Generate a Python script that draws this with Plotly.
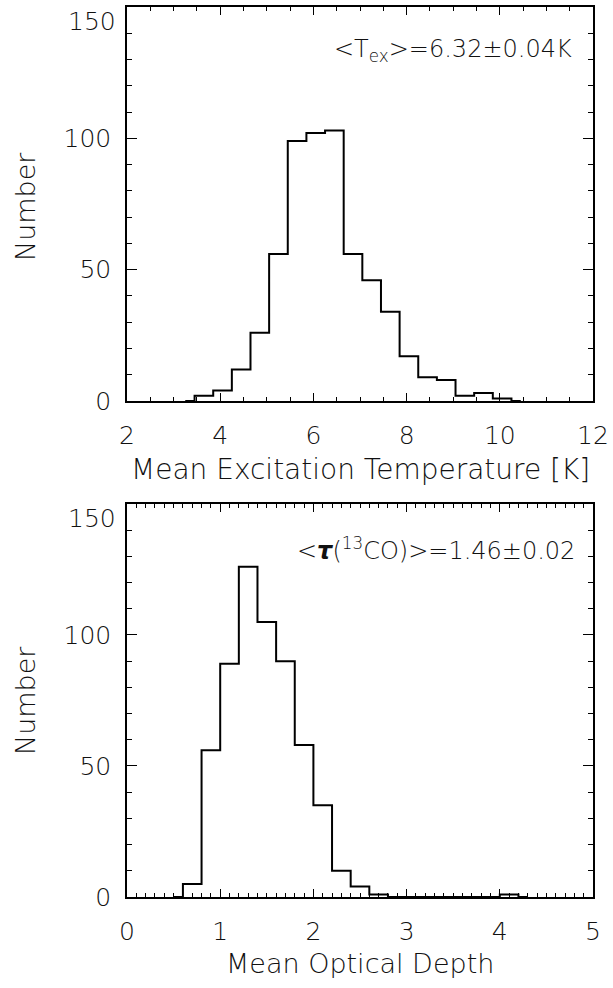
import numpy as np
import plotly.graph_objects as go

# top panel: mean excitation temperature histogram (bin centres, counts)
tex_centers = [3.25, 3.65, 4.05, 4.45, 4.85, 5.25, 5.65, 6.05, 6.45, 6.85,
               7.25, 7.65, 8.05, 8.45, 8.85, 9.25, 9.65, 10.05, 10.45]
tex_counts = [0, 2, 4, 12, 26, 56, 99, 102, 103, 56,
              46, 34, 17, 9, 8, 2, 3, 1, 0]

# bottom panel: mean optical depth histogram
tau_centers = [0.5, 0.7, 0.9, 1.1, 1.3, 1.5, 1.7, 1.9, 2.1, 2.3, 2.5, 2.7,
               2.9, 3.1, 3.3, 3.5, 3.7, 3.9, 4.1, 4.3]
tau_counts = [0, 5, 56, 89, 126, 105, 90, 58, 35, 10, 4, 1,
              0, 0, 0, 0, 0, 0, 1, 0]

tex_label = "&lt;T<sub>ex</sub>&gt;=6.32±0.04K"
tau_label = "&lt;<i><b>τ</b></i>(<sup>13</sup>CO)&gt;=1.46±0.02"

FONT = "DejaVu Sans ExtraLight, DejaVu Sans"
TXT = "#111111"


def step_path(centers, counts):
    # IDL psym=10 style: steps change half way between bin centres
    c = np.asarray(centers, dtype=float)
    n = np.asarray(counts, dtype=float)
    mids = (c[:-1] + c[1:]) / 2
    x = np.concatenate([[c[0]], mids, [c[-1]]])
    y = np.concatenate([n, [n[-1]]])
    return x, y


fig = go.Figure()

x1, y1 = step_path(tex_centers, tex_counts)
fig.add_trace(go.Scatter(x=x1, y=y1, mode="lines", line=dict(color="black", width=2, shape="hv"),
                         xaxis="x", yaxis="y", showlegend=False))
x2, y2 = step_path(tau_centers, tau_counts)
fig.add_trace(go.Scatter(x=x2, y=y2, mode="lines", line=dict(color="black", width=2, shape="hv"),
                         xaxis="x2", yaxis="y2", showlegend=False))

axis_common = dict(
    showline=True, mirror="allticks", linecolor="black", linewidth=1.5,
    ticks="inside", tickcolor="black", showgrid=False, zeroline=False, automargin=False,
    tickfont=dict(family=FONT, size=25, color=TXT, weight=200),
)

xt = dict(axis_common, ticklen=8, tickwidth=1.2, ticklabelstandoff=11)
yt = dict(axis_common, ticklen=10, tickwidth=1.2, ticklabelstandoff=9)

fig.update_layout(
    width=613, height=988,
    margin=dict(l=127, r=20, t=7, b=91, autoexpand=False),
    plot_bgcolor="white", paper_bgcolor="white",
    xaxis=dict(xt, domain=[0, 1], range=[2, 12], tickvals=[2, 4, 6, 8, 10, 12], anchor="y",
               minor=dict(ticks="inside", dtick=0.5, tick0=2, ticklen=4, tickcolor="black", tickwidth=1)),
    yaxis=dict(yt, domain=[0.5573, 1], range=[0, 150], tickvals=[0, 50, 100], anchor="x",
               minor=dict(ticks="inside", dtick=10, tick0=0, ticklen=5, tickcolor="black", tickwidth=1)),
    xaxis2=dict(xt, domain=[0, 1], range=[0, 5], tickvals=[0, 1, 2, 3, 4, 5], anchor="y2",
                minor=dict(ticks="inside", dtick=0.1, tick0=0, ticklen=4, tickcolor="black", tickwidth=1)),
    yaxis2=dict(yt, domain=[0, 0.4416], range=[0, 150], tickvals=[0, 50, 100], anchor="x2",
                minor=dict(ticks="inside", dtick=10, tick0=0, ticklen=5, tickcolor="black", tickwidth=1)),
)

tfont = dict(family=FONT, size=25, color=TXT, weight=200)
lfont = dict(family=FONT, size=27, color=TXT, weight=200)
afont = dict(family=FONT, size=24, color=TXT, weight=200)
ann = [
    # "150" labels sit just below the top frame, as in the original
    dict(text="150", xref="x domain", yref="y", x=0, y=150, xanchor="right", yanchor="top",
         xshift=-9, yshift=2, showarrow=False, font=tfont),
    dict(text="150", xref="x2 domain", yref="y2", x=0, y=150, xanchor="right", yanchor="top",
         xshift=-9, yshift=2, showarrow=False, font=tfont),
    dict(text="Mean Excitation Temperature [K]", xref="paper", yref="paper", x=0.5, y=0.4798,
         xanchor="center", yanchor="middle", showarrow=False, font=dict(lfont, size=28)),
    dict(text="Mean Optical Depth", xref="paper", yref="paper", x=0.5, y=-0.0742,
         xanchor="center", yanchor="middle", showarrow=False, font=lfont),
    dict(text="Number", xref="paper", yref="paper", x=-0.2189, y=0.7764, textangle=-90,
         xanchor="center", yanchor="middle", showarrow=False, font=lfont),
    dict(text="Number", xref="paper", yref="paper", x=-0.2189, y=0.2213, textangle=-90,
         xanchor="center", yanchor="middle", showarrow=False, font=lfont),
    dict(text=tex_label, xref="x", yref="y", x=11.6, y=133.6, xanchor="right", yanchor="middle",
         showarrow=False, font=afont),
    dict(text=tau_label, xref="x2", yref="y2", x=4.83, y=132.8, xanchor="right", yanchor="middle",
         showarrow=False, font=afont),
]
fig.update_layout(annotations=ann)

# drop the default page margin so the figure sits at the window corner
fig.write_html("out.html", config={"displayModeBar": False},
               post_script="document.body.style.margin='0';")
